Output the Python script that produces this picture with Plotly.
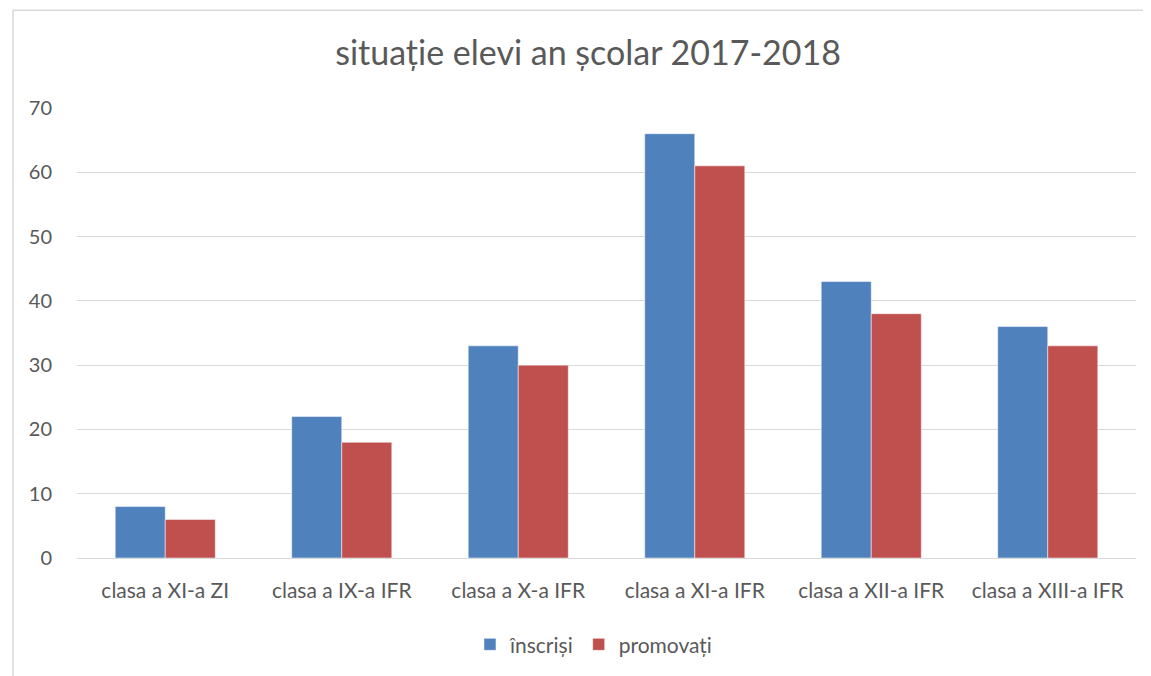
import plotly.graph_objects as go

clase = ['clasa a XI-a ZI', 'clasa a IX-a IFR', 'clasa a X-a IFR',
         'clasa a XI-a IFR', 'clasa a XII-a IFR', 'clasa a XIII-a IFR']
inscrisi = [8, 22, 33, 66, 43, 36]
promovati = [6, 18, 30, 61, 38, 33]

font_name = 'Lato, Open Sans, sans-serif'
text_color = '#595959'

fig = go.Figure()

fig.add_trace(
    go.Bar(
        x=clase,
        y=inscrisi,
        name='înscriși',
        marker=dict(color='#4F81BD', line=dict(color='#ffffff', width=0.5))
    )
)

fig.add_trace(
    go.Bar(
        x=clase,
        y=promovati,
        name='promovați',
        marker=dict(color='#C0504D', line=dict(color='#ffffff', width=0.5))
    )
)

fig.update_yaxes(
    range=[0, 70],
    dtick=10,
    showgrid=True,
    gridcolor='#d9d9d9',
    gridwidth=1,
    zeroline=False,
    showline=False,
    ticks='',
    ticklabelstandoff=24,
    tickfont=dict(size=20, color=text_color, family=font_name)
)
fig.update_xaxes(
    showline=True,
    linecolor='#d9d9d9',
    linewidth=1,
    ticks='',
    ticklabelstandoff=14,
    tickfont=dict(size=21, color=text_color, family=font_name)
)

# chenarul graficului (doar stanga si sus se vad)
fig.add_shape(
    type='rect', xref='paper', yref='paper',
    x0=-0.0604, x1=2, y0=-1, y1=1.217,
    line=dict(color='#d9d9d9', width=1.5),
    fillcolor='rgba(0,0,0,0)', layer='below'
)

# pagina are 8px margine, deci figura e ceva mai mica
fig.update_layout(
    width=1143,
    height=668,
    margin=dict(l=69, r=15, t=100, b=117),
    plot_bgcolor='#FFFFFF',
    paper_bgcolor='#FFFFFF',
    bargap=0.433,
    bargroupgap=0,
    title=dict(
        text='situație elevi an școlar 2017-2018',
        x=0.5075, xanchor='center',
        y=0.9326, yanchor='middle',
        font=dict(size=34, color=text_color, family=font_name)
    ),
    legend=dict(
        orientation='h',
        x=0.4877, xanchor='center',
        y=-0.19, yanchor='middle',
        font=dict(size=21, color=text_color, family=font_name),
        itemwidth=30
    ),
    showlegend=True
)

fig.write_html('out.html')
